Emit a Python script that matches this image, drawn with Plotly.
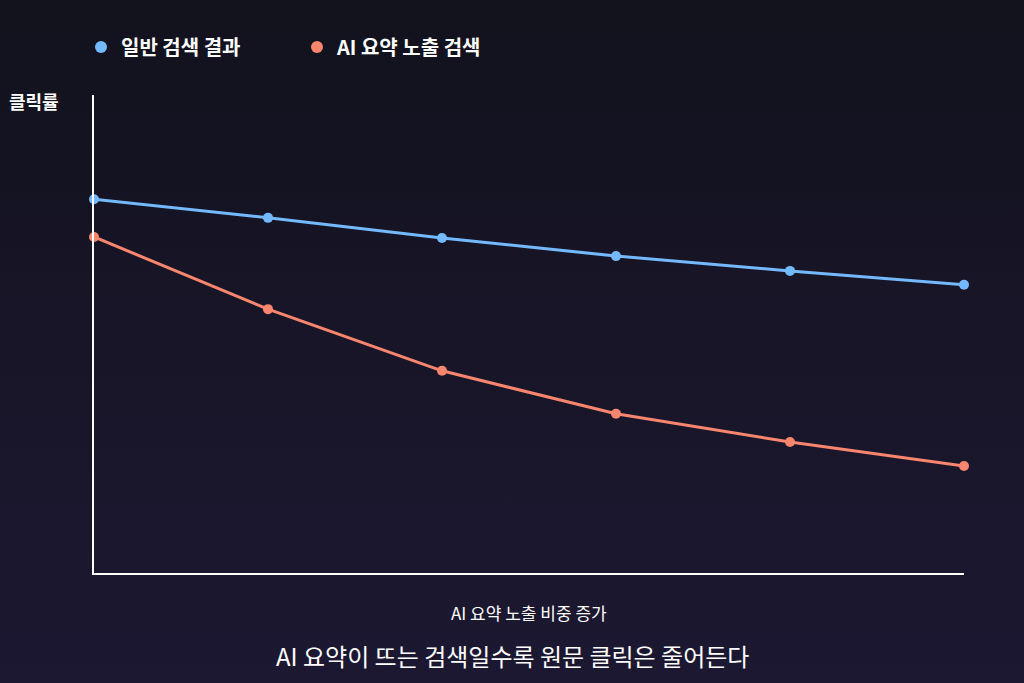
import base64
import plotly.graph_objects as go

# data (click rate, arbitrary 0-100 scale)
steps = [0, 1, 2, 3, 4, 5]
normal_search = [78.2, 74.3, 70.1, 66.3, 63.2, 60.3]
ai_summary = [70.3, 55.2, 42.3, 33.3, 27.4, 22.4]
series_names = ["일반 검색 결과", "AI 요약 노출 검색"]

FONT = "Noto Sans CJK KR"
BLUE = "#74b9ff"
SALMON = "#f8856e"

W, H = 1024, 683
ML, MR, MT, MB = 94, 60, 95, 110
PW, PH = W - ML - MR, H - MT - MB

# background gradient as an svg image
svg = (
    '<svg xmlns="http://www.w3.org/2000/svg" width="100" height="100" preserveAspectRatio="none">'
    '<defs><linearGradient id="g" x1="0" y1="0" x2="0" y2="1">'
    '<stop offset="0" stop-color="#12121d"/><stop offset="1" stop-color="#1d1832"/>'
    '</linearGradient></defs><rect width="100" height="100" fill="url(#g)"/></svg>'
)
bg_src = "data:image/svg+xml;base64," + base64.b64encode(svg.encode()).decode()

fig = go.Figure()
for name, vals, col in [(series_names[0], normal_search, BLUE), (series_names[1], ai_summary, SALMON)]:
    fig.add_trace(go.Scatter(x=steps, y=vals, mode="lines+markers", name=name, showlegend=False,
                             line=dict(color=col, width=3), marker=dict(size=10, color=col),
                             cliponaxis=False))
    # legend entry: dot only
    fig.add_trace(go.Scatter(x=[None], y=[None], mode="markers", name=name,
                             marker=dict(size=15, color=col)))

fig.add_layout_image(dict(source=bg_src, xref="paper", yref="paper",
                          x=-ML / PW, y=(PH + MT) / PH, sizex=W / PW, sizey=H / PH,
                          xanchor="left", yanchor="top", sizing="stretch", layer="below"))

fig.add_annotation(text="<b>클릭률</b>", xref="paper", yref="paper", x=-ML / PW + 7 / PW, y=1 - 6 / PH,
                   xanchor="left", yanchor="middle", showarrow=False,
                   font=dict(family=FONT, size=18, color="#ffffff"))
fig.add_annotation(text="AI 요약 노출 비중 증가", xref="paper", yref="paper", x=0.5, y=-39 / PH,
                   xanchor="center", yanchor="middle", showarrow=False,
                   font=dict(family=FONT, size=17, color="#ffffff"))
fig.add_annotation(text="AI 요약이 뜨는 검색일수록 원문 클릭은 줄어든다", xref="paper", yref="paper",
                   x=(512 - ML) / PW, y=-82 / PH, xanchor="center", yanchor="middle", showarrow=False,
                   font=dict(family=FONT, size=24, color="#ffffff"))

fig.update_layout(
    width=W, height=H,
    margin=dict(l=ML, r=MR, t=MT, b=MB),
    paper_bgcolor="#15141f", plot_bgcolor="rgba(0,0,0,0)",
    font=dict(family=FONT, color="#ffffff"),
    showlegend=True,
    legend=dict(orientation="h", x=-13 / PW, y=1 + 48 / PH, xanchor="left", yanchor="middle",
                entrywidth=171, entrywidthmode="pixels",
                font=dict(family=FONT, size=20, color="#ffffff", weight="bold"),
                bgcolor="rgba(0,0,0,0)", itemsizing="constant"),
    xaxis=dict(range=[0, 5], showline=True, linecolor="#ffffff", linewidth=1.5,
               showgrid=False, zeroline=False, showticklabels=False, ticks=""),
    yaxis=dict(range=[0, 100], showline=True, linecolor="#ffffff", linewidth=1.5,
               showgrid=False, zeroline=False, showticklabels=False, ticks=""),
)

fig.write_html("out.html", config={"displayModeBar": False},
               post_script="document.body.style.margin='0';")
